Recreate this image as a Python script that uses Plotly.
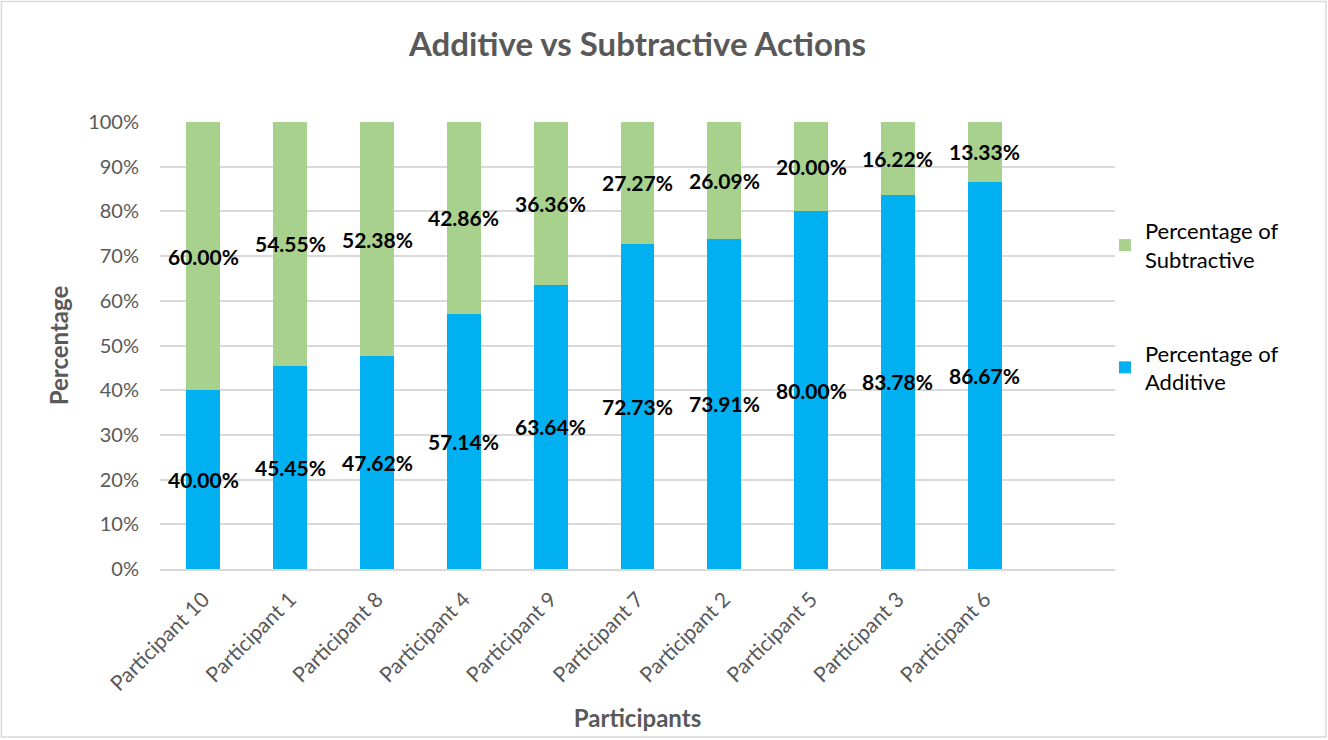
import plotly.graph_objects as go

participants = ["Participant 10", "Participant 1", "Participant 8", "Participant 4",
                "Participant 9", "Participant 7", "Participant 2", "Participant 5",
                "Participant 3", "Participant 6"]
additive = [40.00, 45.45, 47.62, 57.14, 63.64, 72.73, 73.91, 80.00, 83.78, 86.67]
subtractive = [60.00, 54.55, 52.38, 42.86, 36.36, 27.27, 26.09, 20.00, 16.22, 13.33]
y_ticks = list(range(0, 101, 10))
y_tick_labels = [f"{v}%" for v in y_ticks]

BLUE = "#00B0F0"
GREEN = "#A9D18E"
GRAY = "#595959"
GRID = "#D9D9D9"
FONT = "Lato, 'Open Sans', sans-serif"

fig = go.Figure()
fig.add_trace(go.Bar(
    x=participants, y=additive, name="Percentage of<br>Additive",
    marker=dict(color=BLUE, line=dict(width=0)), width=0.39,
    legendgroup="add", legendrank=2,
))
fig.add_trace(go.Bar(
    x=participants, y=subtractive, name="Percentage of<br>Subtractive",
    marker=dict(color=GREEN, line=dict(width=0)), width=0.39,
    legendgroup="sub", legendrank=1,
))

# value labels centred in each stacked segment
label_font = dict(family=FONT, size=21, color="black", weight="bold")
annotations = []
for p, a, s in zip(participants, additive, subtractive):
    annotations.append(dict(x=p, y=a / 2, text=f"{a:.2f}%", showarrow=False, font=label_font))
    annotations.append(dict(x=p, y=a + s / 2, text=f"{s:.2f}%", showarrow=False, font=label_font))

fig.update_layout(
    width=1328, height=740,
    margin=dict(l=160, r=213, t=122, b=171),
    barmode="stack",
    paper_bgcolor="white", plot_bgcolor="white",
    font=dict(family=FONT, color=GRAY),
    title=dict(text="<b>Additive vs Subtractive Actions</b>", x=0.5, xref="paper",
               xanchor="center", y=0.94, yanchor="middle",
               font=dict(family=FONT, size=33, color=GRAY)),
    xaxis=dict(range=[-0.5, 10.5], tickangle=-45, showgrid=False, automargin=False,
               showline=True, linecolor=GRID, linewidth=1.5,
               tickfont=dict(family=FONT, size=21, color=GRAY), ticklabelstandoff=8,
               title=dict(text="<b>Participants</b>", standoff=16,
                          font=dict(family=FONT, size=24, color=GRAY))),
    yaxis=dict(range=[0, 100], tickvals=y_ticks, ticktext=y_tick_labels, automargin=False,
               showgrid=True, gridcolor=GRID, gridwidth=1.5, zeroline=False,
               tickfont=dict(family=FONT, size=20, color=GRAY), ticklen=0,
               ticklabelstandoff=20,
               title=dict(text="<b>Percentage</b>", standoff=12,
                          font=dict(family=FONT, size=24, color=GRAY))),
    legend=dict(x=0.9895, y=0.803, xanchor="left", yanchor="top",
                traceorder="grouped", tracegroupgap=62,
                font=dict(family=FONT, size=22, color="black"),
                itemwidth=30, bgcolor="rgba(0,0,0,0)"),
    annotations=annotations,
    shapes=[dict(type="rect", xref="paper", yref="paper",
                 x0=-0.1660, x1=1.2209, y0=-0.3758, y1=1.2696,
                 line=dict(color=GRID, width=1.5), layer="below")],
)

fig.write_html("out.html")
